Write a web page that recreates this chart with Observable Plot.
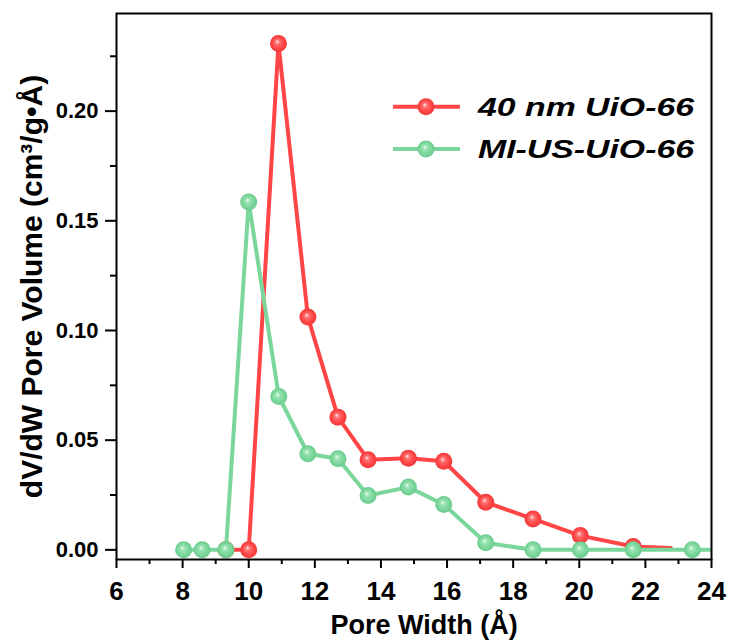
<!DOCTYPE html>
<html><head><meta charset="utf-8">
<script src="https://cdn.jsdelivr.net/npm/d3@7"></script>
<script src="https://cdn.jsdelivr.net/npm/@observablehq/plot@0.6"></script>
<style>
body{margin:0;background:#fff;}
#wrap{position:relative;width:731px;height:643px;}
#legend{position:absolute;left:0;top:0;pointer-events:none;}
</style></head><body><div id="wrap"></div>
<script>
// ---- data ----
const redX   = [9.31, 10.0, 10.90, 11.79, 12.70, 13.61, 14.83, 15.90, 17.17, 18.60, 20.03, 21.63, 22.77];
const redY   = [0, 0, 0.2308, 0.1061, 0.0605, 0.0411, 0.0418, 0.0404, 0.0217, 0.0141, 0.0065, 0.0015, 0.0009];
const greenX = [8.03, 8.59, 9.31, 10.0, 10.91, 11.79, 12.70, 13.61, 14.83, 15.90, 17.17, 18.60, 20.03, 21.63, 23.42, 25.2];
const greenY = [0, 0, 0, 0.1586, 0.0699, 0.0438, 0.0415, 0.0248, 0.0286, 0.0207, 0.0032, 0, 0, 0, 0, 0];
const xTicks = [6, 8, 10, 12, 14, 16, 18, 20, 22, 24];
const xMinor = [7, 9, 11, 13, 15, 17, 19, 21, 23];
const yTicks = [0, 0.05, 0.10, 0.15, 0.20];
const yMinor = [0.025, 0.075, 0.125, 0.175, 0.225];
const seriesNames  = ["40 nm UiO-66", "MI-US-UiO-66"];
const seriesColors = ["#ff4545", "#7ad69a"];
const xLabel = "Pore Width (Å)";
const yLabel = "dV/dW Pore Volume (cm³/g•Å)";

const red   = redX.map((x, i) => ({x, y: redY[i]}));
const green = greenX.map((x, i) => ({x, y: greenY[i]}));
const redMarked = red.slice(0, -1);

const gradDefs = `
<radialGradient id="ballRed" cx="0.5" cy="0.5" r="0.5" fx="0.42" fy="0.38">
 <stop offset="0" stop-color="#ffe6e6"/><stop offset="0.28" stop-color="#ff7070"/>
 <stop offset="0.7" stop-color="#ff4444"/><stop offset="1" stop-color="#ee3a3a"/>
</radialGradient>
<radialGradient id="ballGreen" cx="0.5" cy="0.5" r="0.5" fx="0.42" fy="0.38">
 <stop offset="0" stop-color="#eefcf2"/><stop offset="0.28" stop-color="#98e3b2"/>
 <stop offset="0.7" stop-color="#7ad69a"/><stop offset="1" stop-color="#6cca8d"/>
</radialGradient>`;
const gradients = () => {
  const defs = document.createElementNS("http://www.w3.org/2000/svg", "defs");
  defs.innerHTML = gradDefs;
  return defs;
};

const chart = Plot.plot({
  width: 731, height: 643,
  marginTop: 13, marginLeft: 116, marginRight: 20, marginBottom: 84,
  x: {domain: [6, 24]},
  y: {domain: [-0.0044, 0.2445]},
  style: {fontFamily: "'Liberation Sans', Arial, sans-serif", fontWeight: "bold", color: "black", background: "white"},
  marks: [
    gradients,
    Plot.line(red, {x: "x", y: "y", stroke: seriesColors[0], strokeWidth: 4, clip: true}),
    Plot.dot(redMarked, {x: "x", y: "y", r: 8.5, fill: "url(#ballRed)", clip: true}),
    Plot.line(green, {x: "x", y: "y", stroke: seriesColors[1], strokeWidth: 4, clip: true}),
    Plot.dot(green, {x: "x", y: "y", r: 8.5, fill: "url(#ballGreen)", clip: true}),
    Plot.frame({stroke: "black", strokeWidth: 2}),
    Plot.axisX({ticks: xTicks, tickSize: 9, tickPadding: 13, fontSize: 26, strokeWidth: 2, tickFormat: d3.format("d"), label: null}),
    Plot.axisX({ticks: xMinor, tickSize: 5, strokeWidth: 2, tickFormat: () => "", label: null}),
    Plot.axisY({ticks: yTicks, tickSize: 11, tickPadding: 7, fontSize: 22, strokeWidth: 2, tickFormat: d3.format(".2f"), label: null}),
    Plot.axisY({ticks: yMinor, tickSize: 6, strokeWidth: 2, tickFormat: () => "", label: null}),
    Plot.text([xLabel], {text: d => d, frameAnchor: "bottom", textAnchor: "middle", lineAnchor: "middle", dx: 10, dy: 66, fontSize: 27}),
    Plot.text([yLabel], {text: d => d, frameAnchor: "left", textAnchor: "middle", lineAnchor: "middle", rotate: -90, dx: -84, fontSize: 30})
  ]
});
const wrap = document.getElementById("wrap");
wrap.appendChild(chart);

// ---- legend (overlay) ----
const ns = "http://www.w3.org/2000/svg";
const leg = d3.select(wrap).append(() => document.createElementNS(ns, "svg"))
  .attr("id", "legend").attr("width", 731).attr("height", 643);
const rowY = [106.7, 149];
const baseY = [115.5, 157.5];
const fills = ["url(#ballRed)", "url(#ballGreen)"];
seriesNames.forEach((name, i) => {
  leg.append("line").attr("x1", 393).attr("x2", 460).attr("y1", rowY[i]).attr("y2", rowY[i])
    .attr("stroke", seriesColors[i]).attr("stroke-width", 4);
  leg.append("circle").attr("cx", 426).attr("cy", rowY[i]).attr("r", 8.5).attr("fill", fills[i]);
  leg.append("text").attr("x", 478).attr("y", baseY[i])
    .attr("font-family", "'Liberation Sans', Arial, sans-serif")
    .attr("font-weight", "bold").attr("font-style", "italic").attr("font-size", 25)
    .attr("textLength", 216).attr("lengthAdjust", "spacingAndGlyphs")
    .text(name);
});
</script></body></html>
